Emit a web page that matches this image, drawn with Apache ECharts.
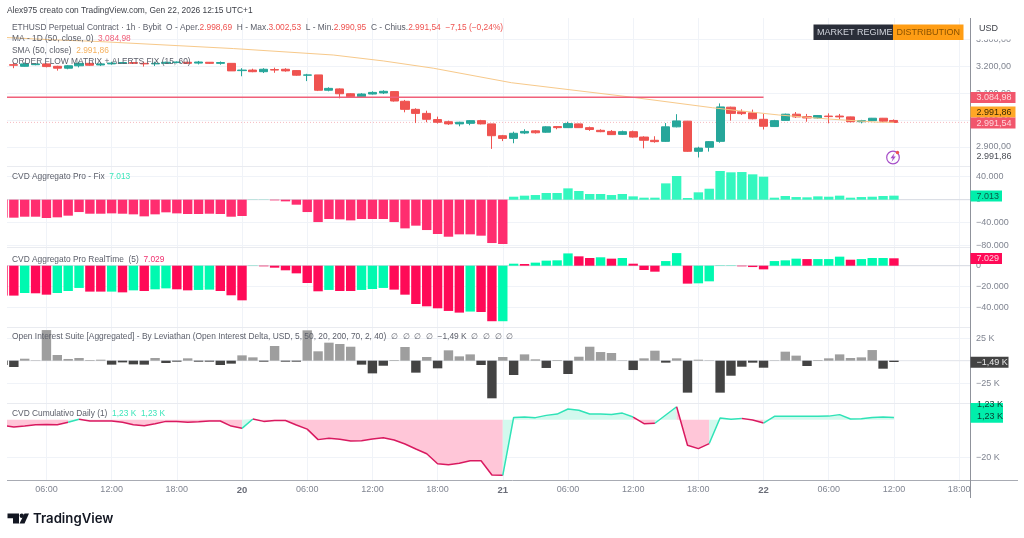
<!DOCTYPE html>
<html><head><meta charset="utf-8">
<style>html,body{margin:0;padding:0;background:#fff}#c{width:1024px;height:538px}</style>
<script src="https://cdn.jsdelivr.net/npm/echarts@6/dist/echarts.min.js"></script>
</head><body><div id="c"></div>
<script>
// x axis: hours since 19 Jan 00:00
const xTicks=[6,12,18,24,30,36,42,48,54,60,66,72,78,84,90];
const xTickLabels=['06:00','12:00','18:00','20','06:00','12:00','18:00','21','06:00','12:00','18:00','22','06:00','12:00','18:00'];
const firstHour=2, candleFirstHour=3;
// price candles h3..h84 [open, close, low, high]
const candles=[[3206,3204,3193,3214],[3200,3209,3199,3214],[3206,3209,3204,3212],[3209,3199,3196,3211],[3200,3193,3184,3202],[3193,3202,3189,3205],[3202,3211,3196,3217],[3211,3204,3202,3215],[3205,3209,3201,3214],[3209,3212,3206,3217],
[3211,3214,3209,3216],[3214,3211,3209,3216],[3211,3209,3199,3217],[3209,3211,3201,3217],[3211,3215,3209,3217],[3214,3216,3211,3218],[3215,3211,3209,3217],[3212,3216,3207,3220],[3215,3211,3209,3216],[3211,3214,3206,3218],
[3211,3183,3183,3212],[3184,3186,3163,3193],[3186,3180,3178,3191],[3180,3189,3175,3193],[3188,3186,3176,3195],[3189,3183,3180,3193],[3184,3167,3165,3185],[3167,3168,3145,3172],[3168,3111,3108,3168],[3111,3118,3107,3122],
[3116,3098,3081,3118],[3098,3087,3086,3100],[3087,3097,3084,3100],[3097,3103,3095,3107],[3101,3107,3097,3111],[3106,3071,3069,3107],[3070,3040,3029,3075],[3040,3025,2989,3044],[3025,3003,2992,3035],[3002,2992,2987,3013],
[2994,2986,2982,2998],[2986,2992,2977,2994],[2988,2998,2981,3000],[2998,2986,2984,3001],[2986,2942,2893,2986],[2942,2932,2922,2945],[2932,2951,2914,2957],[2952,2958,2948,2966],[2960,2953,2950,2963],[2955,2975,2953,2977],
[2976,2972,2966,2978],[2972,2987,2971,2994],[2986,2972,2971,2987],[2972,2965,2960,2976],[2962,2957,2955,2966],[2958,2946,2945,2963],[2947,2957,2945,2961],[2957,2937,2935,2961],[2937,2925,2895,2940],[2925,2920,2916,2940],
[2921,2975,2919,2989],[2975,2997,2973,3022],[2996,2884,2882,2997],[2884,2896,2861,2901],[2899,2920,2883,2922],[2921,3049,2916,3062],[3048,3025,2998,3050],[3031,3024,3019,3040],[3027,3005,3003,3039],[3003,2977,2965,3023],
[2976,2998,2975,3001],[2999,3022,2998,3024],[3022,3012,3008,3030],[3013,3008,2994,3023],[3008,3017,3005,3019],[3015,3013,2988,3025],[3015,3012,3003,3023],[3012,2994,2992,3013],[2994,2998,2988,3001],[2998,3007,2996,3008],
[3007,2996,2992,3008],[2998.69,2991.54,2990.95,3002.53]];
const smaHours=[2.37,6.3,10.9,23.2,32.4,37,41.6,48.8,59.9,67.3,69.7,73.4,78,82.6,84];
const smaValues=[3307,3299,3292,3266,3242,3220,3193,3139,3085,3046,3035,3019,3004,2992,2991.86];
const maLevel=3084.98, maEndHour=72, lastClose=2991.54;
// CVD Aggregato Pro - Fix, thousands, h2..h84
const cvdFix=[-31.3,-31.3,-29.6,-29.6,-31.9,-30.7,-27.8,-21.5,-24.4,-24.4,-23.8,-24.4,-25.5,-29,-25.5,-22,-23.8,-24.9,-24.9,-24.4,-24.9,-29.6,-28.4,0.3,0.3,-1.2,-2.9,-8.7,-21.5,-38.9,-33.6,-34.2,-36,-33.6,-33.6,-33.6,-38.9,-49.9,-45.2,-52.8,-59.7,-64.4,-60.3,-60.3,-62.6,-75.4,-77.1,
5.2,7,8.1,11.6,11.6,19.7,15.1,9.9,9.9,8.1,9.9,5.8,3.5,3.5,28.4,41.2,2.9,12.8,19.1,49.9,47.6,48.1,44.1,40,3.5,6.4,4.6,4.1,5.8,5.2,7,3.5,4.6,5.2,6.4,7.013];
// CVD Aggregato Pro RealTime, thousands, h2..h84
const cvdReal=[-28.5,-28.5,-26,-26.3,-27.6,-26,-24.1,-21.2,-24.7,-24.7,-24.7,-25.4,-23.5,-24.1,-22.5,-21.6,-22.5,-23.5,-23.1,-22.8,-24.1,-28.2,-33,0.2,-0.6,-1.9,-4.4,-7.3,-16.5,-24.4,-23.1,-24.1,-24.1,-23.1,-22.2,-21.2,-22.8,-27.6,-36.5,-38.7,-40.6,-43.1,-44.7,-43.7,-44.1,-52.9,-52.9,
1.9,1.6,2.9,4.8,5.1,11.7,8.9,7.3,8,6.7,7.3,1.9,-4.1,-5.7,4.4,12,-17.1,-16.8,-14.9,-0.3,-0.3,-0.6,-1.3,-3.5,4.4,5.1,6.7,6.3,6.3,6.3,8.6,5.7,6.3,7.3,7.3,7.029];
const cvdRealColor=['r','r','t','r','r','t','t','t','r','r','t','r','t','r','t','t','r','r','t','t','r','r','r','t','r','r','r','r','r','r','t','r','r','t','t','t','r','r','r','r','r','r','r','t','r','r','t',
't','r','t','t','t','t','r','r','t','r','t','r','r','r','t','t','r','t','t','t','t','r','r','r','t','t','t','r','t','t','t','r','t','t','t','r'];
// Open Interest delta, thousands, h2..h84
const oiDelta=[-4.8,-7,2.2,0.4,34,6.3,1.9,3,0.7,1.1,-4.4,-1.9,-4.1,-4.4,3,-2.6,-1.1,2.6,-1.1,-1.1,-4.8,-3.3,5.9,3.7,-1.1,16.3,-1.1,-1.1,33.7,10.4,20,18.5,15.5,-4.4,-14.1,-5.6,0.7,15.2,-13.3,4.1,-8.5,11.5,4.8,7,-4.8,-41.8,4.1,
-15.9,7,1.5,-8.1,0.7,-14.8,4.4,15.5,9.6,8.5,0.4,-10.4,2.6,11.1,-2.2,2.6,-35.5,1.1,0.4,-35.5,-16.7,-6.7,-2.2,-7.8,0.4,10,5.6,-5.9,0.7,2.6,7,3,3.7,11.8,-8.9,-1.49];
// CVD Cumulativo Daily, thousands, h2.37 then h3..h84
const dailyStart=[2.37,-3.4];
const dailyCvd=[-3.9,-3.4,-2.7,-2.5,-2.7,-1.4,0.2,-0.7,-0.7,-0.7,-1.4,-2.7,-3.2,-2.1,-0.9,-0.9,-1.4,-1.1,-0.7,-0.7,-3.4,-4.6,0.4,-0.9,-0.4,-0.4,-2.8,-5,-10.6,-9.9,-10.4,-11.3,-11.2,-10.3,-9.6,-10.8,-12.9,-15.6,-18.1,-23.4,-23.9,-23.2,-21.8,-21.8,-29.4,-29.6,
1.2,1.4,1.1,2.3,3,5.7,5,3,3,2.8,3.5,1.4,-2.1,-1.9,2.5,6.9,-13.6,-15.4,-12.7,0.9,0.2,0.7,-0.2,-1.8,1.8,1.8,1.8,1.8,1.8,1.9,2.7,0.4,0.5,1.2,1.4,1.23];
const dailyTurns=[8,9,24,25,48,60,62,64,67,70,72,84];

const RED='#ef5350',GREEN='#26a69a',PINK='#ff2d6f',MINT='#34f7bf',CRIM='#ff0a57',MINT2='#00f9b0',GRID='#f0f3f8',AX='#808591';
const FONT='"Liberation Sans",Arial,sans-serif';
const X0=2.37,X1=91.0;
const panes=[[18,148],[166,81],[247,80],[327,76],[403,77]];
const grids=panes.map(p=>({left:7,right:54,top:p[0],height:p[1],containLabel:false}));
const xAxes=panes.map((p,i)=>({type:'value',gridIndex:i,min:X0,max:X1,
  axisLine:{show:false},axisTick:{show:false,customValues:xTicks},
  splitLine:{show:true,lineStyle:{color:GRID,width:1}},
  axisLabel:i==4?{show:true,customValues:xTicks,margin:5,color:AX,fontSize:9,fontFamily:FONT,
     formatter:v=>{const s=xTickLabels[xTicks.indexOf(v)];return s.length==2?'{b|'+s+'}':s;},
     rich:{b:{fontWeight:'bold',color:'#6a6d78',fontSize:9.5,fontFamily:FONT}}}:{show:false}}));
const it=v=>String(Math.abs(v)).replace(/\B(?=(\d{3})+(?!\d))/g,'.');
const yAx=(i,min,max,ticks,fmt)=>({type:'value',gridIndex:i,position:'right',min,max,
  axisLine:{show:false},axisTick:{show:false,customValues:ticks},
  splitLine:{show:true,lineStyle:{color:GRID,width:1}},
  axisLabel:{show:true,customValues:ticks,margin:6,color:AX,fontSize:9,fontFamily:FONT,formatter:fmt,showMinLabel:true,showMaxLabel:true}});
const yAxes=[
 yAx(0,2829.4,3379.6,[2900,3000,3100,3200,3300],v=>it(v)+',00'),
 yAx(1,-82.3,58.6,[-80,-40,0,40],v=>(v<0?'−':'')+it(v*1000)),
 yAx(2,-58.4,17.8,[-40,-20,0],v=>(v<0?'−':'')+it(v*1000)),
 yAx(3,-47,37.4,[-25,0,25],v=>(v<0?'−':'')+Math.abs(v)+' K'),
 yAx(4,-32.07,8.88,[-20],v=>(v<0?'−':'')+Math.abs(v)+' K')];

const barData=(arr)=>arr.map((v,i)=>[firstHour+i,v]);
const bars=(i,arr,colorFn)=>({type:'bar',xAxisIndex:i,yAxisIndex:i,barWidth:9.4,z:2,data:barData(arr).map((d,k)=>({value:d,itemStyle:{color:colorFn(d[1],k)}})),silent:true});
const zero=(i,c)=>({type:'line',xAxisIndex:i,yAxisIndex:i,data:[[X0,0],[X1,0]],showSymbol:false,symbol:'none',silent:true,z:1,lineStyle:{color:c,width:1}});

const dailyPts=[dailyStart].concat(dailyCvd.map((v,i)=>[candleFirstHour+i,v]));
const dailySeries=[];let from=X0;
dailyTurns.forEach((t,k)=>{
  const seg=dailyPts.filter(p=>p[0]>=from&&p[0]<=t);
  const red=k%2==0;
  dailySeries.push({type:'line',xAxisIndex:4,yAxisIndex:4,data:seg,showSymbol:false,symbol:'none',silent:true,z:3,
    lineStyle:{color:red?'#d91a60':'#2fe3b7',width:1.5},
    areaStyle:{color:red?'#ffc6d8':'#d3f9ee',opacity:1}});
  from=t;
});

const series=[
 {type:'line',xAxisIndex:0,yAxisIndex:0,data:[[X0,lastClose],[X1,lastClose]],showSymbol:false,symbol:'none',silent:true,z:1,lineStyle:{color:'#f6b9c0',width:1,type:[1,2]}},
 {type:'candlestick',xAxisIndex:0,yAxisIndex:0,barWidth:8.6,encode:{x:0,y:[1,2,3,4]},silent:true,z:3,
  data:candles.map((c,i)=>[candleFirstHour+i,c[0],c[1],c[2],c[3]]),
  itemStyle:{color:GREEN,color0:RED,borderColor:GREEN,borderColor0:RED,borderWidth:1}},
 {type:'line',xAxisIndex:0,yAxisIndex:0,data:smaHours.map((h,i)=>[h,smaValues[i]]),showSymbol:false,symbol:'none',silent:true,z:4,lineStyle:{color:'#f7c98a',width:1}},
 {type:'line',xAxisIndex:0,yAxisIndex:0,data:[[X0,maLevel],[maEndHour,maLevel]],showSymbol:false,symbol:'none',silent:true,z:4,lineStyle:{color:'#f0607a',width:1.6}},
 zero(1,'#d8dbe2'),zero(2,'#d8dbe2'),zero(3,'#e4e6eb'),
 bars(1,cvdFix,v=>v>=0?MINT:PINK),
 bars(2,cvdReal,(v,k)=>cvdRealColor[k]=='t'?MINT2:CRIM),
 bars(3,oiDelta,v=>v>=0?'#9e9e9e':'#434343'),
 ...dailySeries
];

const SZ=8.4;
const txt=(x,y,text,fill,size,extra)=>Object.assign({type:'text',x,y,z:100,silent:true,style:Object.assign({text,fill,fontSize:size,fontFamily:FONT,verticalAlign:'middle'},extra||{})});
const rt=(x,y,text,rich)=>{const r={};for(const k in rich){r[k]={fill:rich[k],fontSize:SZ,fontFamily:FONT};}
  return {type:'text',x,y,z:100,silent:true,style:{text,rich:r,fontSize:SZ,fontFamily:FONT,verticalAlign:'middle',fill:'#555'}};};
const box=(x,y,w,h,fill,z)=>({type:'rect',z:z||99,silent:true,shape:{x,y,width:w,height:h},style:{fill}});
const hl=(x1,y,x2,c)=>({type:'line',z:50,silent:true,shape:{x1,y1:y,x2,y2:y},style:{stroke:c,lineWidth:1}});
const TXT='#5d606b';
const tag=(x,y,w,h,fill,label,color)=>[box(x,y,w,h,fill),txt(x+6,y+h/2+0.3,label,color,9)];
const graphic=[
 box(0,18,7,462,'#fff',40),
 hl(7,166.5,970,'#e9ebf0'),hl(7,247.5,970,'#e9ebf0'),hl(7,327.5,970,'#e9ebf0'),hl(7,403.5,970,'#e9ebf0'),
 hl(7,480.5,1018,'#a8abb3'),
 {type:'line',z:98,silent:true,shape:{x1:970.5,y1:18,x2:970.5,y2:498},style:{stroke:'#8f929b',lineWidth:1}},
 box(972,0,52,39.5,'#fff',97),
 txt(7,10.5,'Alex975 creato con TradingView.com, Gen 22, 2026 12:15 UTC+1','#3c3f47',SZ),
 rt(12,28,'{g|ETHUSD Perpetual Contract · 1h · Bybit  O - Aper.}{r|2.998,69}{g|  H - Max.}{r|3.002,53}{g|  L - Min.}{r|2.990,95}{g|  C - Chius.}{r|2.991,54}{r|  −7,15 (−0,24%)}',{g:TXT,r:RED}),
 rt(12,39,'{g|MA - 1D (50, close, 0)}  {r|3.084,98}',{g:TXT,r:'#f0607a'}),
 rt(12,50.5,'{g|SMA (50, close)}  {o|2.991,86}',{g:TXT,o:'#f5b15e'}),
 rt(12,61.5,'{g|ORDER FLOW MATRIX + ALERTS FIX (15, 60)}',{g:TXT}),
 rt(12,177,'{g|CVD Aggregato Pro - Fix}  {t|7.013}',{g:TXT,t:'#3ee6bb'}),
 rt(12,259.5,'{g|CVD Aggregato Pro RealTime  (5)}  {p|7.029}',{g:TXT,p:'#f0306f'}),
 rt(12,337,'{g|Open Interest Suite [Aggregated] - By Leviathan (Open Interest Delta, USD, 5, 50, 20, 200, 70, 2, 40)  ∅  ∅  ∅  ∅  −1,49 K  ∅  ∅  ∅  ∅}',{g:TXT}),
 rt(12,414,'{g|CVD Cumulativo Daily (1)}  {t|1,23 K}  {t|1,23 K}',{g:TXT,t:'#3ee6bb'}),
 box(813.5,24.5,79.5,15.5,'#2a2e39'),box(893,24.5,70.5,15.5,'#ff9d14'),
 txt(817,32.5,'MARKET REGIME','#d1d4dc',9),txt(896.5,32.5,'DISTRIBUTION','#8a5200',9),
 txt(979,29,'USD','#3c3f47',9),
 ...tag(970.5,92,45,11,'#f1566c','3.084,98','#ffd5da'),
 ...tag(970.5,106.5,45,11,'#ffa726','2.991,86','#3a2a00'),
 ...tag(970.5,117.5,45,11,'#f1566c','2.991,54','#ffd5da'),
 txt(976.5,157,'2.991,86','#4a4d55',9),
 ...tag(970.5,190.5,31.5,11,'#00eeab','7.013','#0a5a48'),
 ...tag(970.5,253,31.5,11,'#ff0a57','7.029','#ffd0de'),
 ...tag(970.5,356.7,38,11,'#434343','−1,49 K','#e8e8e8'),
 box(970.5,403,32.5,19.7,'#00eeab'),
 txt(977,405,'1,23 K','#0b3b30',9),txt(977,416.7,'1,23 K','#0b3b30',9),
 {type:'circle',z:100,silent:true,shape:{cx:893,cy:157.5,r:6.3},style:{fill:'none',stroke:'#a64fc8',lineWidth:1.2}},
 {type:'polygon',z:100,silent:true,shape:{points:[[894.5,153],[890.5,158.3],[892.8,158.3],[891.5,162],[895.8,156.6],[893.4,156.6]]},style:{fill:'#a64fc8'}},
 {type:'circle',z:101,silent:true,shape:{cx:897.5,cy:152.5,r:1.7},style:{fill:'#ef5350'}},
 {type:'polygon',z:100,silent:true,shape:{points:[[7.5,513.6],[19,513.6],[19,523.6],[13,523.6],[13,518.2],[7.5,518.2]]},style:{fill:'#131722'}},
 {type:'circle',z:100,silent:true,shape:{cx:21.8,cy:515.8,r:2.2},style:{fill:'#131722'}},
 {type:'polygon',z:100,silent:true,shape:{points:[[24.5,513.6],[29,513.6],[24.5,523.6],[19.5,523.6]]},style:{fill:'#131722'}},
 txt(33,519,'TradingView','#131722',13.2,{fontWeight:600,fontFamily:'Inter,"Liberation Sans",sans-serif'})
];
const chart=echarts.init(document.getElementById('c'),null,{renderer:'canvas'});
chart.setOption({animation:false,backgroundColor:'#fff',grid:grids,xAxis:xAxes,yAxis:yAxes,series,graphic});
</script></body></html>
